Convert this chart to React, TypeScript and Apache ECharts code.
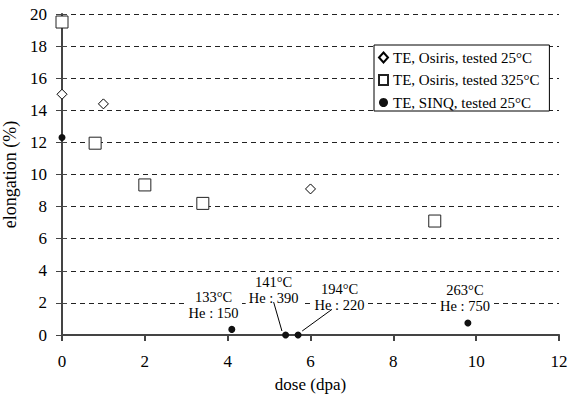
import React, { useEffect, useRef } from "react";
import * as echarts from "echarts";

const FONT = "Liberation Serif";

const seriesNames = [
  "TE, Osiris, tested 25°C",
  "TE, Osiris, tested 325°C",
  "TE, SINQ, tested 25°C",
];

const doseTE25 = [0, 1, 6];
const elongTE25 = [15.0, 14.4, 9.1];

const doseTE325 = [0, 0.8, 2, 3.4, 9];
const elongTE325 = [19.5, 11.95, 9.35, 8.2, 7.1];

const doseSINQ = [0, 4.1, 5.4, 5.7, 9.8];
const elongSINQ = [12.3, 0.35, 0.0, 0.0, 0.75];

// annotation labels (data coordinates of label centre)
const noteText = ["133°C\nHe : 150", "141°C\nHe : 390", "194°C\nHe : 220", "263°C\nHe : 750"];
const noteX = [3.66, 5.11, 6.7, 9.73];
const noteY = [1.86, 2.8, 2.36, 2.33];

// leader lines [x1, y1, x2, y2] in data coordinates
const leaders = [
  [5.11, 2.05, 5.31, 0.25],
  [6.52, 1.6, 5.8, 0.25],
];

const xTicks = { min: 0, max: 12, interval: 2 };
const yTicks = { min: 0, max: 20, interval: 2 };

export default function App() {
  const ref = useRef<HTMLDivElement>(null);
  useEffect(() => {
    if (!ref.current) return;
    const chart = echarts.init(ref.current, null, { renderer: "svg" });
    const zip = (xs: number[], ys: number[]) => xs.map((x, i) => [x, ys[i]]);
    const hollow = { color: "#fff", borderColor: "#000", borderWidth: 1, opacity: 1 };
    const series: any[] = [
      {
        name: seriesNames[0],
        type: "scatter",
        symbol: "diamond",
        symbolSize: 10,
        itemStyle: hollow,
        data: zip(doseTE25, elongTE25),
        z: 5,
      },
      {
        name: seriesNames[1],
        type: "scatter",
        symbol: "rect",
        symbolSize: 12,
        itemStyle: { ...hollow, borderColor: "#222" },
        data: zip(doseTE325, elongTE325),
        z: 5,
      },
      {
        name: seriesNames[2],
        type: "scatter",
        symbol: "circle",
        symbolSize: 7,
        itemStyle: { color: "#111", opacity: 1 },
        data: zip(doseSINQ, elongSINQ),
        clip: false,
        z: 6,
      },
      {
        name: "notes",
        type: "scatter",
        symbolSize: 0,
        silent: true,
        itemStyle: { opacity: 1 },
        data: noteText.map((t, i) => ({ value: [noteX[i], noteY[i]], name: t })),
        label: {
          show: true,
          position: "inside",
          formatter: (p: any) => p.name,
          color: "#000",
          fontFamily: FONT,
          fontSize: 14.5,
          lineHeight: 16,
          align: "center",
          backgroundColor: "#fff",
          padding: [0, 3],
        },
        z: 4,
      },
      ...leaders.map((l, i) => ({
        name: "leader" + i,
        type: "line",
        symbol: "none",
        silent: true,
        lineStyle: { color: "#000", width: 1 },
        data: [
          [l[0], l[1]],
          [l[2], l[3]],
        ],
        z: 5,
      })),
    ];
    chart.setOption({
      animation: false,
      backgroundColor: "#fff",
      textStyle: { fontFamily: FONT },
      grid: {
        left: 62,
        right: 19,
        top: 14,
        bottom: 61,
        containLabel: false,
        outerBoundsMode: "none",
      },
      legend: {
        data: seriesNames,
        orient: "vertical",
        left: 374,
        top: 45,
        backgroundColor: "#fff",
        borderColor: "#000",
        borderWidth: 1,
        borderRadius: 0,
        padding: [5, 10, 1, 4],
        itemWidth: 9,
        itemHeight: 10,
        itemGap: 7.5,
        textStyle: { fontFamily: FONT, fontSize: 15, lineHeight: 15, color: "#000" },
        selectedMode: false,
        z: 10,
      },
      xAxis: [
        {
          type: "value",
          ...xTicks,
          name: "dose (dpa)",
          nameLocation: "middle",
          nameGap: 41,
          nameTextStyle: { fontFamily: FONT, fontSize: 17, color: "#000" },
          axisLine: { show: true, onZero: false, lineStyle: { color: "#444", width: 2 } },
          axisTick: { show: true, length: 6, lineStyle: { color: "#444", width: 2 } },
          axisLabel: { fontFamily: FONT, fontSize: 17, color: "#000", margin: 18 },
          splitLine: { show: false },
          z: 4,
        },
        {
          type: "value",
          position: "top",
          ...xTicks,
          axisLine: { show: true, lineStyle: { color: "#aaa", width: 2, type: [6, 2] } },
          axisTick: { show: false },
          axisLabel: { show: false },
          splitLine: { show: false },
        },
      ],
      yAxis: [
        {
          type: "value",
          ...yTicks,
          name: "elongation (%)",
          nameLocation: "middle",
          nameGap: 36,
          nameTextStyle: { fontFamily: FONT, fontSize: 18, color: "#000" },
          axisLine: { show: true, onZero: false, lineStyle: { color: "#444", width: 2 } },
          axisTick: { show: true, length: 6, lineStyle: { color: "#444", width: 1 } },
          axisLabel: { fontFamily: FONT, fontSize: 17, color: "#000", margin: 15 },
          splitLine: { show: true, lineStyle: { color: "#222", width: 1, type: [5, 4] } },
          z: 4,
        },
        {
          type: "value",
          position: "right",
          ...yTicks,
          axisLine: { show: true, lineStyle: { color: "#bbb", width: 2 } },
          axisTick: { show: false },
          axisLabel: { show: false },
          splitLine: { show: false },
        },
        {
          type: "value",
          position: "left",
          ...yTicks,
          axisLine: { show: false },
          axisTick: { show: true, inside: true, length: 5, lineStyle: { color: "#444", width: 1 } },
          axisLabel: { show: false },
          splitLine: { show: false },
          z: 4,
        },
      ],
      series,
    });
    return () => chart.dispose();
  }, []);
  return (
    <div
      ref={ref}
      style={{ position: "absolute", left: 0, top: 0, width: 578, height: 396 }}
    />
  );
}
